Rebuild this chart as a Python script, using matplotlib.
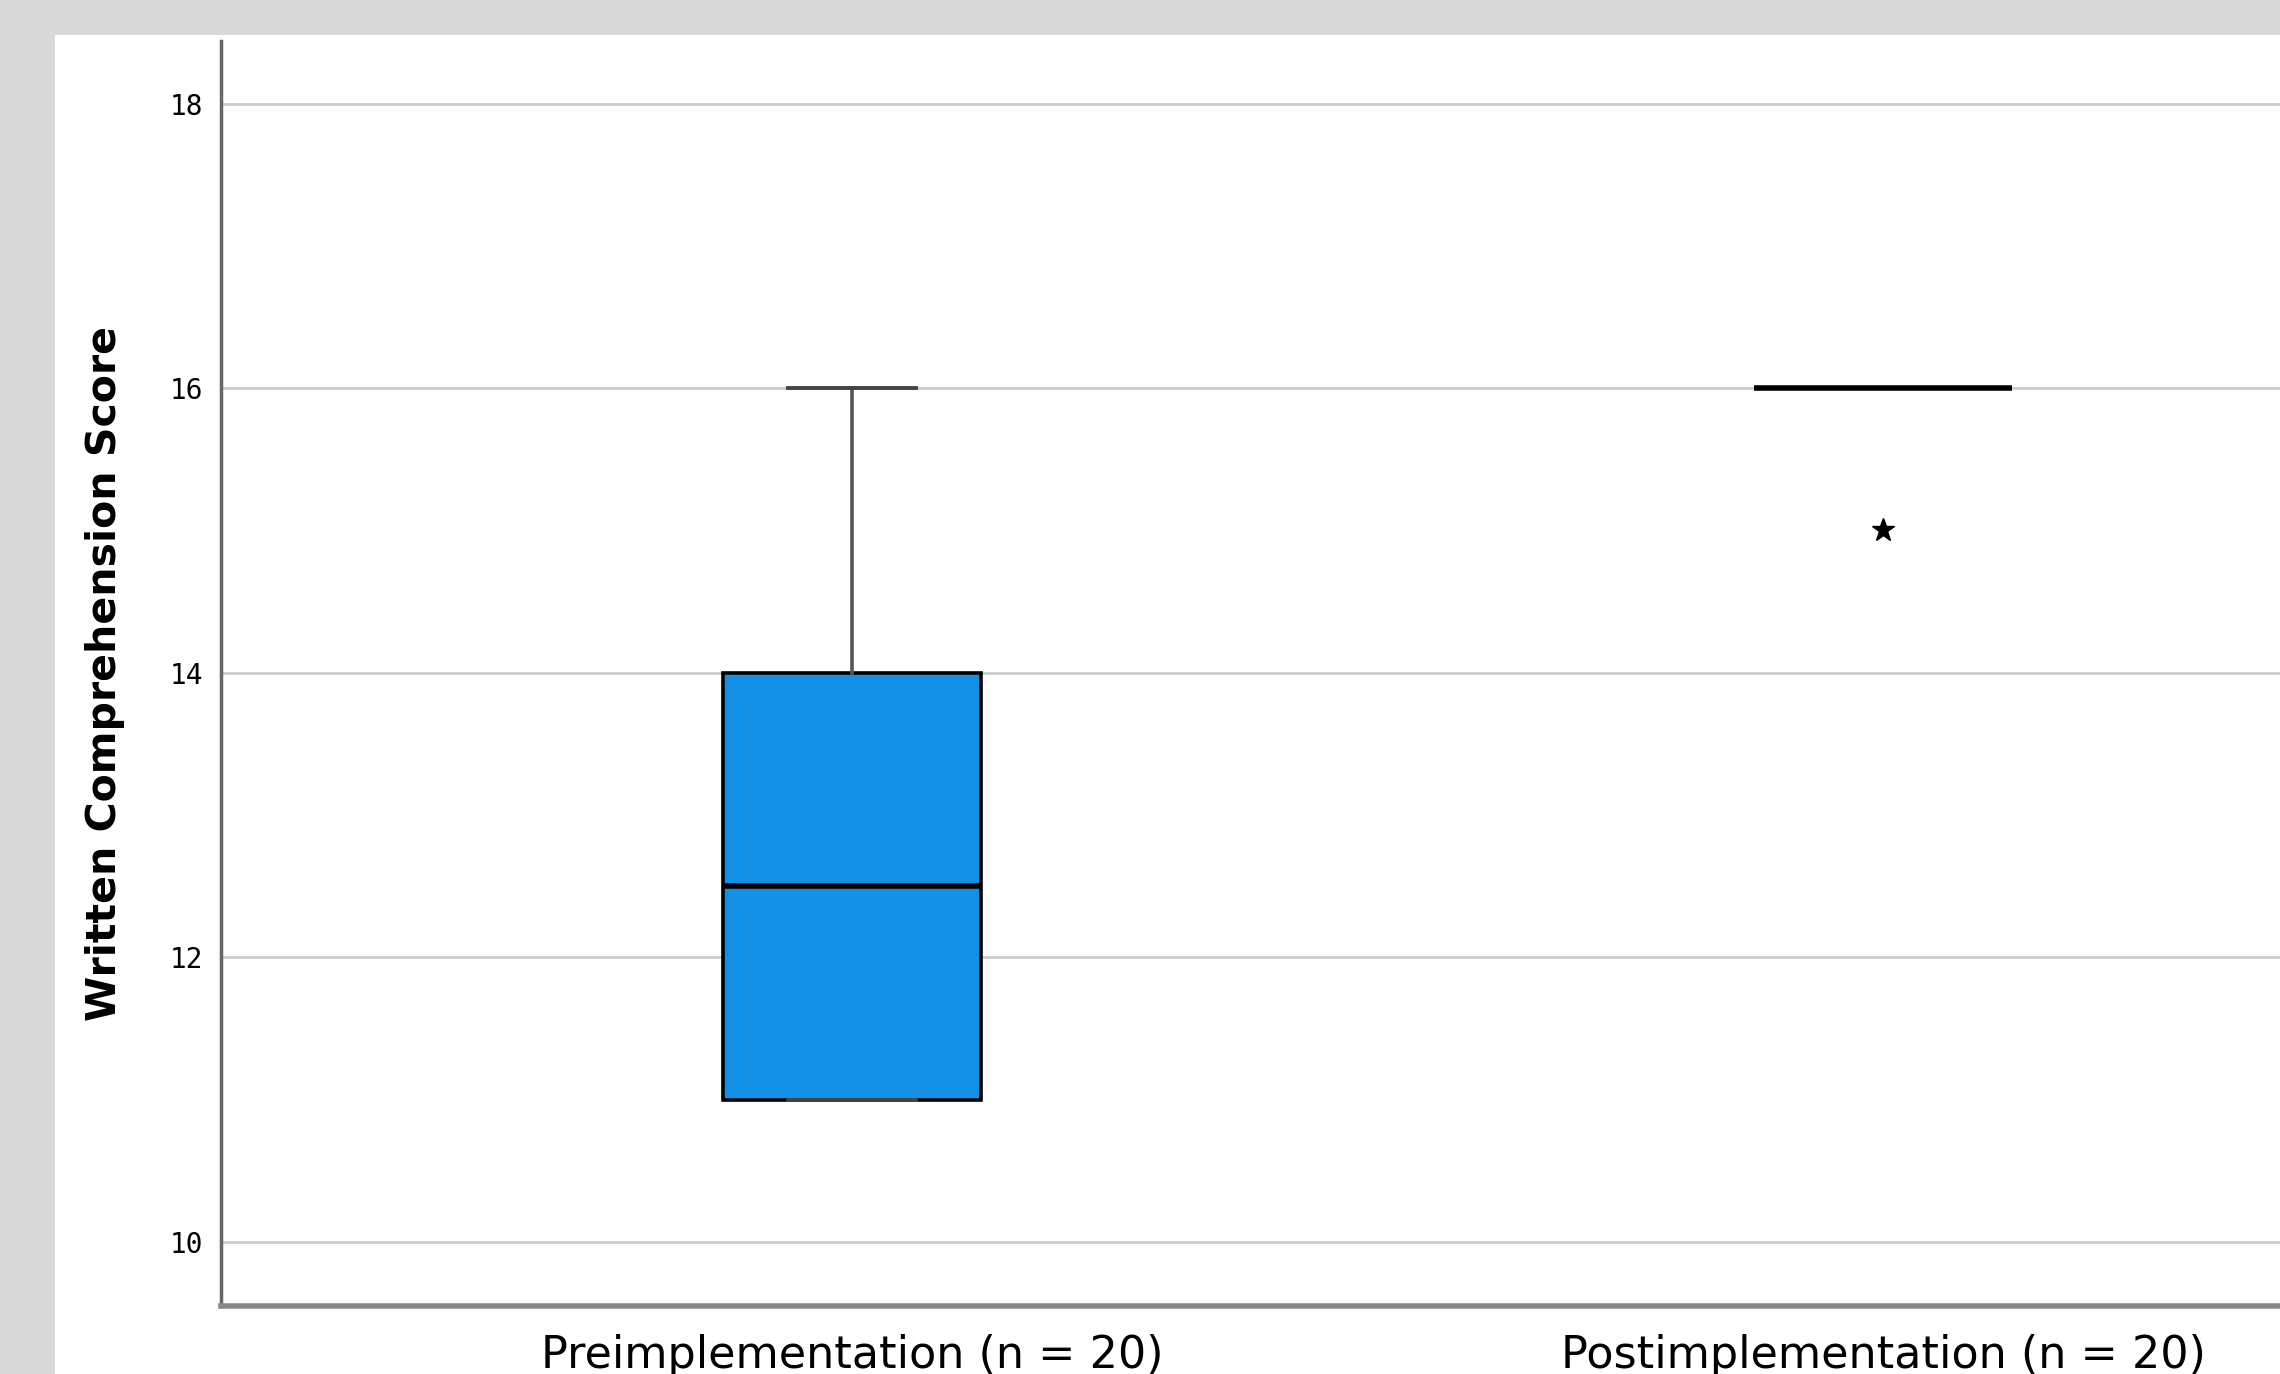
import matplotlib
matplotlib.use("Agg")
import matplotlib.pyplot as plt
from matplotlib.patches import Rectangle

# data
groups = ["Preimplementation (n = 20)", "Postimplementation (n = 20)"]
positions = [1, 2]
whisker_low = [11, 16]
q1 = [11, 16]
median = [12.5, 16]
q3 = [14, 16]
whisker_high = [16, 16]
outliers = [[], [15]]
y_ticks = [10, 12, 14, 16, 18]

stats = []
for i in range(len(groups)):
    stats.append({
        "label": groups[i],
        "whislo": whisker_low[i],
        "q1": q1[i],
        "med": median[i],
        "q3": q3[i],
        "whishi": whisker_high[i],
        "fliers": outliers[i],
    })

fig = plt.figure(figsize=(22.8, 13.74), dpi=100, facecolor="#d9d9d9")
# white panel behind the chart
fig.patches.append(Rectangle((55 / 2280, 0), 1, 1 - 35 / 1374, transform=fig.transFigure,
                             facecolor="white", edgecolor="none", zorder=-10))

ax = fig.add_axes([221 / 2280, 68 / 1374, 1 - 221 / 2280, (1306 - 41) / 1374])
ax.set_facecolor("white")

ax.bxp(stats, positions=positions, widths=0.251, patch_artist=True,
       boxprops=dict(facecolor="#1290e6", edgecolor="black", linewidth=2.6),
       medianprops=dict(color="black", linewidth=4),
       whiskerprops=dict(color="#555555", linewidth=2.6),
       capprops=dict(color="#444444", linewidth=2.8),
       capwidths=0.125,
       flierprops=dict(marker="*", markersize=17, markerfacecolor="black",
                       markeredgecolor="black"),
       zorder=3)

ax.set_xlim(0.388, 2.385)
ax.set_ylim(9.55, 18.44)
ax.set_yticks(y_ticks)
ax.set_yticklabels([str(t) for t in y_ticks], fontsize=20, family="DejaVu Sans Mono")
ax.yaxis.grid(True, color="#cccccc", linewidth=2)
ax.set_axisbelow(True)
ax.tick_params(axis="y", length=0, pad=13)
ax.tick_params(axis="x", length=0, pad=20, labelsize=32)

for s in ["top", "right"]:
    ax.spines[s].set_visible(False)
ax.spines["left"].set_color("#666666")
ax.spines["left"].set_linewidth(2.5)
ax.spines["bottom"].set_color("#888888")
ax.spines["bottom"].set_linewidth(4)

ax.set_ylabel("Written Comprehension Score", fontsize=29.5, fontweight="bold")
ax.yaxis.set_label_coords(-(221 - 125) / (2280 - 221), 0.5)

fig.savefig("out.png", dpi=100, facecolor=fig.get_facecolor())
